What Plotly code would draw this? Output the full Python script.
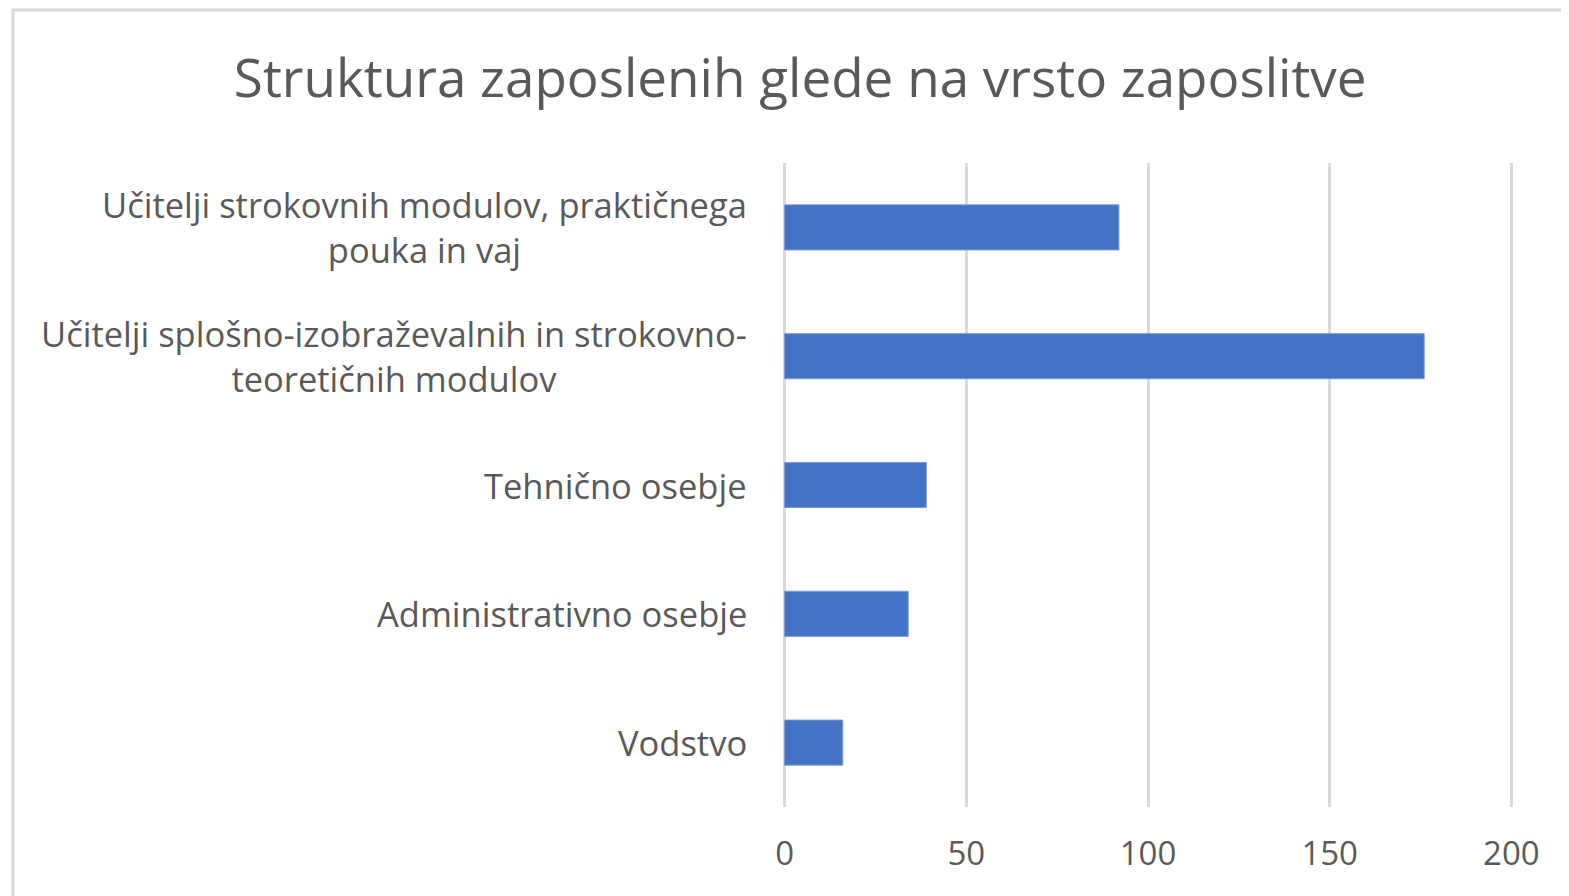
import plotly.graph_objects as go

categories = [
    "Vodstvo",
    "Administrativno osebje",
    "Tehnično osebje",
    "Učitelji splošno-izobraževalnih in strokovno-<br>teoretičnih modulov",
    "Učitelji strokovnih modulov, praktičnega<br>pouka in vaj",
]
values = [16, 34, 39, 176, 92]
x_ticks = [0, 50, 100, 150, 200]
title_text = "Struktura zaposlenih glede na vrsto zaposlitve"

FONT = "Open Sans"
GRAY = "#595959"

fig = go.Figure(
    go.Bar(
        y=categories,
        x=values,
        orientation="h",
        marker=dict(color="#4472C4", line=dict(color="#7a9ad6", width=1)),
        width=0.35,
    )
)

for cat in categories:
    fig.add_annotation(
        x=0, y=cat, xref="x", yref="y",
        text=cat, showarrow=False, xanchor="right", yanchor="middle",
        align="center", xshift=-36,
        font=dict(family=FONT, size=34.5, color=GRAY),
    )

fig.add_shape(
    type="rect", xref="paper", yref="paper",
    x0=-1.0464, x1=1.09, y0=-0.16, y1=1.2376,
    line=dict(color="#d9d9d9", width=3), fillcolor="rgba(0,0,0,0)", layer="below",
)

fig.update_layout(
    width=1561, height=888,
    margin=dict(l=773, r=54, t=155, b=89),
    paper_bgcolor="white", plot_bgcolor="white",
    showlegend=False,
    title=dict(text=title_text, x=0.5075, xanchor="center", xref="container",
               y=0.921, yanchor="middle", yref="container",
               font=dict(family=FONT, size=53, color=GRAY)),
    xaxis=dict(
        range=[-1, 201], tickvals=x_ticks, showgrid=True, gridcolor="#d9d9d9", gridwidth=3,
        zeroline=False, showline=False, ticks="", ticklabelstandoff=24,
        tickfont=dict(family=FONT, size=33, color=GRAY),
    ),
    yaxis=dict(
        showticklabels=False, showgrid=False, zeroline=False, showline=False, ticks="",
        categoryorder="array", categoryarray=categories,
    ),
)

fig.write_html("out.html")
